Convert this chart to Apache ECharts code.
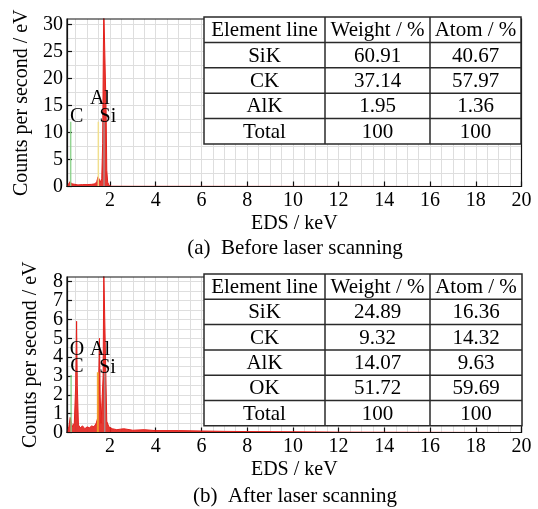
<!DOCTYPE html>
<html><head><meta charset="utf-8">
<script src="https://cdn.jsdelivr.net/npm/echarts@6/dist/echarts.min.js"></script>
<style>html,body{margin:0;padding:0;background:#fff}#c{width:538px;height:509px}</style>
</head><body><div id="c"></div>
<script>
// ---------------- data ----------------
const xTickValues = [2, 4, 6, 8, 10, 12, 14, 16, 18, 20];
const yTickValuesA = [0, 5, 10, 15, 20, 25, 30];
const yTickValuesB = [0, 1, 2, 3, 4, 5, 6, 7, 8];
const xName = 'EDS / keV';
const yName = 'Counts per second / eV';
const captionA = '(a)  Before laser scanning';
const captionB = '(b)  After laser scanning';

// spectrum (a): [keV, counts per second / eV]
const spectrumA = [
  [0.12, 0], [0.2, 0.2], [0.25, 0.9], [0.29, 1.2], [0.33, 0.5], [0.4, 0.3], [0.6, 0.3],
  [0.8, 0.35], [1.0, 0.35], [1.2, 0.4], [1.35, 0.5], [1.42, 0.9], [1.48, 1.8], [1.52, 1.6],
  [1.58, 0.8], [1.64, 1.5], [1.68, 8], [1.71, 25], [1.73, 33], [1.8, 33], [1.83, 14],
  [1.86, 3], [1.9, 0.8], [1.96, 0.2], [2.05, 0.05], [3, 0.04], [20, 0]
];
// spectrum (b)
const spectrumB = [
  [0.12, 0], [0.2, 0.3], [0.26, 0.8], [0.3, 0.6], [0.36, 0.3], [0.44, 0.5], [0.5, 2.5],
  [0.54, 5.9], [0.57, 2.5], [0.62, 0.4], [0.7, 0.25], [0.8, 0.35], [0.9, 0.2], [1.0, 0.3],
  [1.1, 0.25], [1.2, 0.35], [1.3, 0.3], [1.4, 0.5], [1.47, 0.8], [1.51, 3], [1.54, 5.0],
  [1.57, 2], [1.61, 0.5], [1.66, 0.6], [1.7, 3], [1.73, 8.6], [1.79, 8.6], [1.82, 3],
  [1.86, 0.6], [1.95, 0.3], [2.1, 0.2], [2.3, 0.15], [2.6, 0.2], [3.0, 0.12], [3.5, 0.15],
  [4, 0.1], [5, 0.1], [6, 0.08], [7, 0.06], [8, 0.05], [10, 0.04], [12, 0.02], [20, 0]
];

// element marker lines
const elementsA = ['C', 'Al', 'Si'];
const energiesA = [0.28, 1.49, 1.74];
const markerHeightsA = [12, 12, 12];
const elementsB = ['C', 'O', 'Al', 'Si'];
const energiesB = [0.3, 0.53, 1.47, 1.77];
const markerHeightsB = [3.05, 3.2, 3.2, 3.2];

// tables
const tableHeader = ['Element line', 'Weight / %', 'Atom / %'];
const tableElementsA = ['SiK', 'CK', 'AlK', 'Total'];
const weightA = ['60.91', '37.14', '1.95', '100'];
const atomA = ['40.67', '57.97', '1.36', '100'];
const tableElementsB = ['SiK', 'CK', 'AlK', 'OK', 'Total'];
const weightB = ['24.89', '9.32', '14.07', '51.72', '100'];
const atomB = ['16.36', '14.32', '9.63', '59.69', '100'];

// ---------------- styles / layout ----------------
const FONT = '"Liberation Serif", "Times New Roman", serif';
const INK = '#000';
const XMIN = 0.12;
const gridsLayout = [
  { left: 67, top: 19, width: 454.5, height: 167.5 },
  { left: 67, top: 277, width: 454.5, height: 155.5 }
];
const markerColors = { C: '#86cf86', Al: '#f2df86', Si: '#a89090', O: '#e03a30' };
const markerColorsB = { C: '#86cf86', Al: '#f0a028', Si: '#a89090', O: '#e03a30' };
const labelOffsetsA = { C: [6, 5], Al: [1.6, -12.7], Si: [3.9, 5.3] };
const labelOffsetsB = { C: [5.8, 1.8], O: [0.6, -12.3], Al: [2.1, -12.3], Si: [2.8, 5.4] };
const labelStyle = { fontFamily: FONT, fontSize: 20, color: INK, margin: 4,
  showMinLabel: true, showMaxLabel: true, hideOverlap: false, interval: 0 };

function stepValues(a, b, s) { const r = []; for (let v = a; v <= b + 1e-9; v += s) r.push(+v.toFixed(4)); return r; }

const xAxis = [], yAxis = [], grid = [], series = [], frames = [];
function buildPanel(gi, ymax, yTicks, yGridStep, spectrum, elems, energies, heights, colors, offsets) {
  const L = gridsLayout[gi];
  const evenLabels = yTicks.filter((v, i) => i % 2 === 0);
  const oddLabels = yTicks.filter((v, i) => i % 2 === 1);
  grid.push(Object.assign({ show: false }, L));
  frames.push({ type: 'rect', z: 90, shape: { x: L.left, y: L.top, width: L.width, height: L.height },
    style: { fill: null, stroke: '#111', lineWidth: 1.2 } });
  // grid-line axes
  xAxis.push({ gridIndex: gi, type: 'value', min: XMIN, max: 20, position: 'bottom',
    axisLine: { show: false }, axisTick: { show: false, customValues: stepValues(0.5, 19.5, 0.5) },
    axisLabel: { show: false }, splitLine: { show: true, lineStyle: { color: '#dedede', width: 1 } } });
  yAxis.push({ gridIndex: gi, type: 'value', min: 0, max: ymax, position: 'left',
    axisLine: { show: false }, axisTick: { show: false, customValues: stepValues(yGridStep, ymax - 0.01, yGridStep) },
    axisLabel: Object.assign({ customValues: oddLabels }, labelStyle),
    splitLine: { show: true, lineStyle: { color: '#dedede', width: 1 } } });
  // main axes
  xAxis.push({ gridIndex: gi, type: 'value', min: XMIN, max: 20, position: 'bottom',
    axisLine: { show: true, onZero: false, lineStyle: { color: '#111', width: 1.2 } },
    axisTick: { show: true, inside: true, length: 5, customValues: xTickValues, lineStyle: { color: '#111', width: 1.2 } },
    axisLabel: Object.assign({ customValues: xTickValues }, labelStyle),
    splitLine: { show: false },
    name: xName, nameLocation: 'middle', nameGap: 27,
    nameTextStyle: { fontFamily: FONT, fontSize: 20, color: INK } });
  yAxis.push({ gridIndex: gi, type: 'value', min: 0, max: ymax, position: 'left',
    axisLine: { show: true, onZero: false, lineStyle: { color: '#111', width: 1.2 } },
    axisTick: { show: true, inside: true, length: 5, customValues: yTicks, lineStyle: { color: '#111', width: 1.2 } },
    axisLabel: Object.assign({ customValues: evenLabels }, labelStyle),
    splitLine: { show: false },
    name: yName, nameLocation: 'middle', nameGap: 26,
    nameTextStyle: { fontFamily: FONT, fontSize: 20, color: INK } });
  const xi = gi * 2 + 1, yi = gi * 2 + 1;
  series.push({ type: 'line', xAxisIndex: xi, yAxisIndex: yi, data: spectrum, showSymbol: false, symbol: 'none',
    lineStyle: { color: '#e3211c', width: 1 }, areaStyle: { color: '#e3211c', opacity: 0.9 }, z: 3, silent: true });
  elems.forEach((el, i) => {
    series.push({ type: 'line', xAxisIndex: xi, yAxisIndex: yi, data: [[energies[i], 0], [energies[i], heights[i]]],
      symbol: 'none', lineStyle: { color: colors[el], width: el === 'Al' && gi === 1 ? 2 : 1.5, opacity: 0.9 }, z: 4, silent: true });
  });
  series.push({ type: 'scatter', xAxisIndex: xi, yAxisIndex: yi, symbolSize: 0, z: 6, silent: true,
    itemStyle: { opacity: 1 },
    data: elems.map((el, i) => ({ name: el, value: [energies[i], heights[i]],
      label: { offset: offsets[el] } })),
    label: { show: true, formatter: '{b}', position: 'top', distance: 0, opacity: 1,
      fontFamily: FONT, fontSize: 20, color: INK, textBorderWidth: 0 } });
}
buildPanel(0, 31, yTickValuesA, 2.5, spectrumA, elementsA, energiesA, markerHeightsA, markerColors, labelOffsetsA);
buildPanel(1, 8.25, yTickValuesB, 0.5, spectrumB, elementsB, energiesB, markerHeightsB, markerColorsB, labelOffsetsB);

// tables via graphic
function tableGraphic(x0, y0, colW, rowH, names, w, a) {
  const rows = [tableHeader].concat(names.map((n, i) => [n, w[i], a[i]]));
  const totalW = colW.reduce((s, v) => s + v, 0), totalH = rowH * rows.length;
  const els = [];
  els.push({ type: 'rect', z: 100, shape: { x: x0, y: y0, width: totalW, height: totalH },
    style: { fill: '#fff', stroke: '#2a2a2a', lineWidth: 1.5 } });
  for (let r = 1; r < rows.length; r++)
    els.push({ type: 'line', z: 101, shape: { x1: x0, y1: y0 + r * rowH, x2: x0 + totalW, y2: y0 + r * rowH },
      style: { stroke: '#2a2a2a', lineWidth: 1.5 } });
  let cx = x0;
  for (let c = 0; c < colW.length; c++) {
    if (c > 0) els.push({ type: 'line', z: 101, shape: { x1: cx, y1: y0, x2: cx, y2: y0 + totalH },
      style: { stroke: '#2a2a2a', lineWidth: 1.5 } });
    rows.forEach((row, r) => {
      els.push({ type: 'text', z: 102, style: { text: row[c], x: cx + colW[c] / 2, y: y0 + r * rowH + rowH / 2 + 1,
        textAlign: 'center', textVerticalAlign: 'middle', align: 'center', verticalAlign: 'middle',
        font: '21px ' + FONT, fill: INK } });
    });
    cx += colW[c];
  }
  return els;
}
const graphic = frames
  .concat(tableGraphic(204, 17, [121, 105, 91], 25.4, tableElementsA, weightA, atomA))
  .concat(tableGraphic(204, 274, [121, 105, 92], 25.3, tableElementsB, weightB, atomB))
  .concat([
    { type: 'text', z: 102, style: { text: captionA, x: 295, y: 248, textAlign: 'center', textVerticalAlign: 'middle',
      align: 'center', verticalAlign: 'middle', font: '21px ' + FONT, fill: INK } },
    { type: 'text', z: 102, style: { text: captionB, x: 295, y: 496, textAlign: 'center', textVerticalAlign: 'middle',
      align: 'center', verticalAlign: 'middle', font: '21px ' + FONT, fill: INK } }
  ]);

const chart = echarts.init(document.getElementById('c'), null, { renderer: 'canvas' });
chart.setOption({ animation: false, backgroundColor: '#fff', grid, xAxis, yAxis, series, graphic });
</script></body></html>
